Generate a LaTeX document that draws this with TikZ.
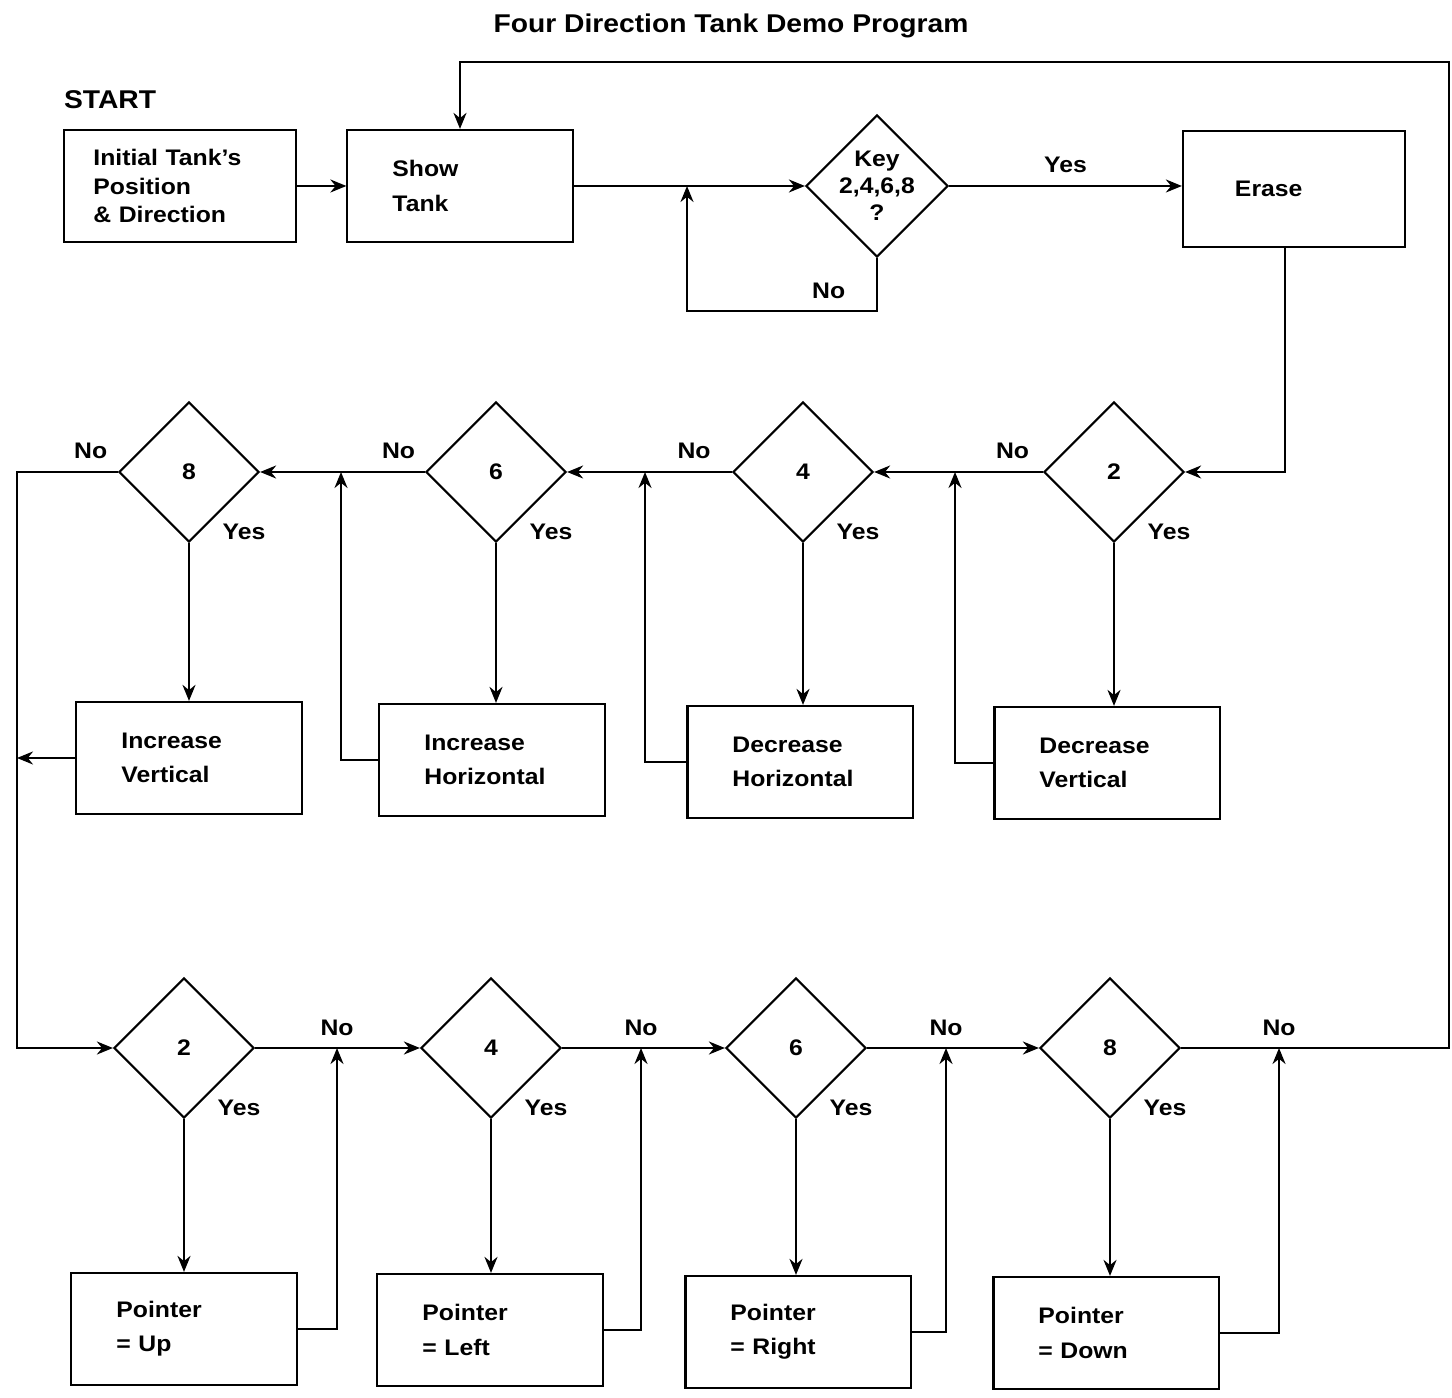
\documentclass[tikz,border=0pt]{standalone}
\usepackage{fontspec}
\setmainfont[FakeStretch=1.1]{Liberation Sans}
\usetikzlibrary{shapes.geometric,arrows.meta}

\begin{document}
\begin{tikzpicture}[x=0.01cm,y=-0.01cm,line width=0.6pt,font=\bfseries\fontsize{6.4}{9.7}\selectfont]
  \tikzset{
    flow/.style={-{Stealth[length=1.6mm,width=1.3mm]}},
    stepbox/.style={draw,rectangle,minimum width=2.25cm,minimum height=1.12cm,
      text width=1.35cm,inner xsep=0.45cm,align=left},
    test/.style={draw,diamond,aspect=1,minimum width=1.4cm,minimum height=1.4cm,inner sep=0pt},
    ansyes/.style={label={[xshift=0.55cm,yshift=-0.6cm]center:Yes}},
  }
  \useasboundingbox (0,0) rectangle (1452,1398);
  \node[font=\bfseries\fontsize{7.3}{9}\selectfont] (title) at (731,26) {Four Direction Tank Demo Program};
  \node[anchor=west,inner sep=0pt,font=\bfseries\fontsize{7.3}{9}\selectfont] (start) at (63,100) {START};
  % top row
  \node[stepbox,minimum width=2.31cm,inner xsep=0.29cm,text width=1.73cm,
    font=\bfseries\fontsize{6.4}{8}\selectfont] (init) at (180,186) {Initial Tank's\\Position\\\& Direction};
  \node[stepbox] (show) at (460,186) {Show\\Tank};
  \node[test,minimum width=1.42cm,minimum height=1.42cm,
    label={[align=center,font=\bfseries\fontsize{6.4}{7.7}\selectfont]center:Key\\2,4,6,8\\?}] (key) at (877,186) {};
  \node[stepbox,minimum width=2.22cm,minimum height=1.16cm,inner xsep=0.52cm,text width=1.18cm] (erase) at (1294,189) {Erase};
  % key tests
  \node[test,ansyes] (c2) at (1114,472) {2};
  \node[test,ansyes] (c4) at (803,472) {4};
  \node[test,ansyes] (c6) at (496,472) {6};
  \node[test,ansyes] (c8) at (189,472) {8};
  \node[stepbox] (dv) at (1107,763) {Decrease\\Vertical};
  \node[stepbox] (dh) at (800,762) {Decrease\\Horizontal};
  \node[stepbox] (ih) at (492,760) {Increase\\Horizontal};
  \node[stepbox] (iv) at (189,758) {Increase\\Vertical};
  % pointer tests
  \node[test,ansyes] (q2) at (184,1048) {2};
  \node[test,ansyes] (q4) at (491,1048) {4};
  \node[test,ansyes] (q6) at (796,1048) {6};
  \node[test,ansyes] (q8) at (1110,1048) {8};
  \node[stepbox] (pup) at (184,1329) {Pointer\\= Up};
  \node[stepbox] (pleft) at (490,1330) {Pointer\\= Left};
  \node[stepbox] (pright) at (798,1332) {Pointer\\= Right};
  \node[stepbox] (pdown) at (1106,1333) {Pointer\\= Down};
  % junctions
  \coordinate (jk) at (687,186);
  \coordinate (j2) at (955,472);
  \coordinate (j4) at (645,472);
  \coordinate (j6) at (341,472);
  \coordinate (lft) at (17,472);
  \coordinate (k2) at (337,1048);
  \coordinate (k4) at (641,1048);
  \coordinate (k6) at (946,1048);
  \coordinate (k8) at (1279,1048);
  \coordinate (rt) at (1449,62);

  \draw[flow] (init) -- (show);
  \draw[flow] (show) -- (key);
  \draw[flow] (key.south) -- ++(0,53) node[above left,xshift=-0.19cm] {No} -| (jk);
  \draw[flow] (key) -- node[above] {Yes} (key -| erase.west);
  \draw[flow] ([xshift=-0.09cm]erase.south) |- (c2.east);

  \draw[flow] (c2) -- node[pos=.18,above] {No} (c4);
  \draw[flow] (c4) -- node[pos=.23,above] {No} (c6);
  \draw[flow] (c6) -- node[pos=.16,above] {No} (c8);
  \draw[flow] (c8) -- node[pos=.27,above] {No} (lft) |- (q2);
  \draw[flow] (c2.south) -- (c2.south |- dv.north);
  \draw[flow] (c4.south) -- (c4.south |- dh.north);
  \draw[flow] (c6.south) -- (c6.south |- ih.north);
  \draw[flow] (c8.south) -- (c8.south |- iv.north);
  \draw[flow] (dv.west) -| (j2);
  \draw[flow] (dh.west) -| (j4);
  \draw[flow] (ih.west) -| (j6);
  \draw[flow] (iv.west) -- (iv.west -| lft);

  \draw[flow] (q2) -- (k2) node[above] {No} -- (q4);
  \draw[flow] (q4) -- (k4) node[above] {No} -- (q6);
  \draw[flow] (q6) -- (k6) node[above] {No} -- (q8);
  \draw[flow] (q8) -- (k8) node[above] {No} -| (rt) -| (show.north);
  \draw[flow] (q2.south) -- (q2.south |- pup.north);
  \draw[flow] (q4.south) -- (q4.south |- pleft.north);
  \draw[flow] (q6.south) -- (q6.south |- pright.north);
  \draw[flow] (q8.south) -- (q8.south |- pdown.north);
  \draw[flow] (pup.east) -| (k2);
  \draw[flow] (pleft.east) -| (k4);
  \draw[flow] (pright.east) -| (k6);
  \draw[flow] (pdown.east) -| (k8);
\end{tikzpicture}
\end{document}
